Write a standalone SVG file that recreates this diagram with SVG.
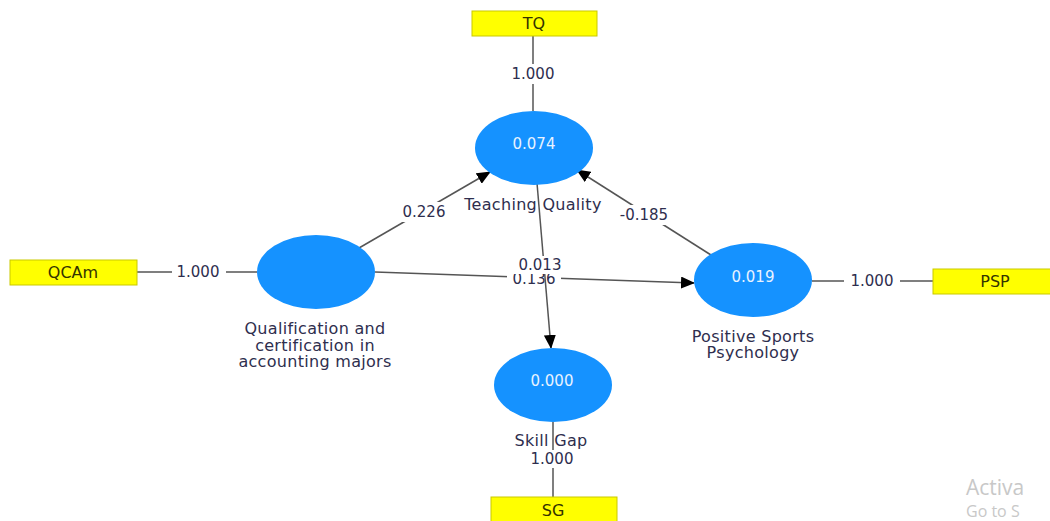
<svg xmlns="http://www.w3.org/2000/svg" width="1050" height="521" viewBox="0 0 1050 521">
<defs>
<style>
.bg{fill:#ffffff}
.box{fill:#ffff00;stroke:#c9c900;stroke-width:1}
.boxt{font-family:"DejaVu Sans","Liberation Sans",sans-serif;font-size:16px;fill:#333300;text-anchor:middle;dominant-baseline:central}
.lv{fill:#1592ff}
.lvt{font-family:"DejaVu Sans","Liberation Sans",sans-serif;font-size:15px;fill:#e8f2ff;text-anchor:middle;dominant-baseline:central}
.num{font-family:"DejaVu Sans","Liberation Sans",sans-serif;font-size:15px;fill:#2e2e4e;text-anchor:middle;dominant-baseline:central}
.lbl{font-family:"DejaVu Sans","Liberation Sans",sans-serif;font-size:16px;letter-spacing:0.3px;fill:#2e2e4e;text-anchor:middle;dominant-baseline:central}
.ln{stroke:#555555;stroke-width:1.5;fill:none}
.arr{stroke:#555555;stroke-width:1.5;fill:none;marker-end:url(#ah)}
.wm{font-family:"Open Sans","Liberation Sans",sans-serif;fill:#c8c8c8}
</style>
<marker id="ah" markerUnits="userSpaceOnUse" markerWidth="14" markerHeight="12" refX="13" refY="6" orient="auto">
<path d="M0,0 L14,6 L0,12 z" fill="#000000"/>
</marker>
</defs>
<rect class="bg" x="0" y="0" width="1050" height="521"/>

<g id="connectors">
<line class="ln" x1="533" y1="36" x2="533" y2="111"/>
<rect class="bg" x="506" y="64" width="54" height="20"/>
<text class="num" x="533" y="74">1.000</text>

<line class="ln" x1="137" y1="272" x2="257" y2="272"/>
<rect class="bg" x="172" y="262" width="54" height="20"/>
<text class="num" x="198" y="272">1.000</text>

<line class="ln" x1="812" y1="281" x2="933" y2="281"/>
<rect class="bg" x="844" y="271" width="56" height="20"/>
<text class="num" x="872" y="281">1.000</text>

<line class="ln" x1="553" y1="422" x2="553" y2="497"/>
<rect class="bg" x="526" y="450" width="54" height="18"/>
<text class="num" x="552" y="459">1.000</text>

<line class="arr" x1="359" y1="248" x2="490" y2="172"/>
<rect class="bg" x="397" y="202" width="54" height="20"/>
<text class="num" x="424" y="212">0.226</text>

<line class="arr" x1="711" y1="255" x2="577" y2="170"/>
<rect class="bg" x="613" y="205" width="62" height="20"/>
<text class="num" x="644" y="215">-0.185</text>

<line class="arr" x1="375" y1="272" x2="694" y2="283"/>
<rect class="bg" x="507" y="270" width="54" height="19"/>
<text class="num" x="534" y="279">0.136</text>

<line class="arr" x1="537" y1="183" x2="551" y2="348"/>
<rect class="bg" x="513" y="256" width="54" height="18"/>
<text class="num" x="540" y="265">0.013</text>
</g>

<g id="TQ">
<rect class="box" x="472" y="11" width="125" height="25"/>
<text class="boxt" x="534" y="23.5">TQ</text>
</g>
<g id="QCAm">
<rect class="box" x="10" y="260" width="127" height="25"/>
<text class="boxt" x="73" y="272.5">QCAm</text>
</g>
<g id="PSP">
<rect class="box" x="933" y="269" width="125" height="25"/>
<text class="boxt" x="995" y="281.5">PSP</text>
</g>
<g id="SG">
<rect class="box" x="491" y="497" width="126" height="30"/>
<text class="boxt" x="553" y="510">SG</text>
</g>

<g id="TeachingQuality">
<ellipse class="lv" cx="534" cy="148" rx="59" ry="37"/>
<text class="lvt" x="534" y="144">0.074</text>
<text class="lbl" x="533" y="204">Teaching Quality</text>
</g>
<g id="Qualification">
<ellipse class="lv" cx="316" cy="272" rx="59" ry="37"/>
<text class="lbl" x="315" y="328">Qualification and</text>
<text class="lbl" x="315" y="345">certification in</text>
<text class="lbl" x="315" y="361">accounting majors</text>
</g>
<g id="PositiveSportsPsychology">
<ellipse class="lv" cx="753" cy="280" rx="59" ry="37"/>
<text class="lvt" x="753" y="277">0.019</text>
<text class="lbl" x="753" y="336">Positive Sports</text>
<text class="lbl" x="753" y="352">Psychology</text>
</g>
<g id="SkillGap">
<ellipse class="lv" cx="553" cy="385" rx="59" ry="37"/>
<text class="lvt" x="552" y="381">0.000</text>
<text class="lbl" x="551" y="440">Skill Gap</text>
</g>

<text class="wm" x="966" y="495" font-size="21">Activa</text>
<text class="wm" x="966" y="517" font-size="16">Go to S</text>
</svg>
